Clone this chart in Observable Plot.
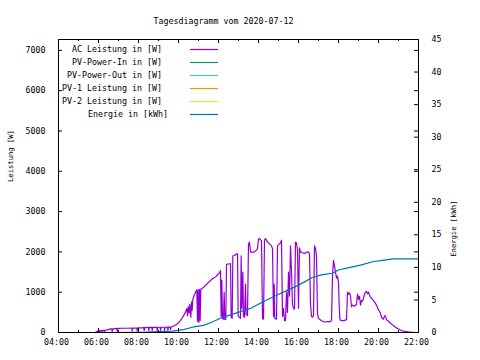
<!DOCTYPE html>
<html><head><meta charset="utf-8">
<script src="https://cdn.jsdelivr.net/npm/d3@7"></script>
<script src="https://cdn.jsdelivr.net/npm/@observablehq/plot@0.6"></script>
<style>html,body{margin:0;padding:0;background:#fff;} svg{display:block}</style>
</head><body><div id="chart"></div>
<script>
// ---------- data ----------
const title = "Tagesdiagramm vom 2020-07-12";
const yLabel = "Leistung [W]";
const y2Label = "Energie [kWh]";

const seriesNames = ["AC Leistung in [W]", "PV-Power-In in [W]", "PV-Power-Out in [W]", "PV-1 Leistung in [W]", "PV-2 Leistung in [W]", "Energie in [kWh]"];
const seriesColors = ["#9400d3", "#009e73", "#56b4e9", "#e69f00", "#f0e442", "#0072b2"];

const acTimes = ["05:51","05:54","05:57","05:58","06:00","06:03","06:04","06:06","06:10","06:11","06:13","06:17","06:18","06:20","06:27","06:33","06:40","06:41","06:43","06:55","06:56","06:58","07:10","07:25","07:40","07:41","07:43","07:55","07:56","07:58","08:10","08:16","08:17","08:19","08:30","08:31","08:33","08:40","08:41","08:43","08:55","08:56","08:58","09:05","09:06","09:08","09:17","09:18","09:20","09:27","09:28","09:30","09:35","09:36","09:38",
"09:42","09:46","09:51","09:56","10:01","10:06","10:11","10:16","10:21","10:25","10:27","10:29","10:32","10:34","10:37","10:39","10:41","10:43","10:46","10:51","10:55","10:57","10:59","11:01","11:03","11:05","11:07","11:11","11:16","11:21","11:26","11:31","11:36","11:41","11:46","11:51","11:56","12:01","12:04","12:06",
"12:08","12:10","12:12","12:15","12:17","12:19","12:22","12:24","12:27","12:33","12:36","12:38","12:41","12:43","12:48","12:54","12:57","12:59","13:02","13:06","13:08","13:10","13:13","13:15","13:18","13:21","13:23","13:27","13:30","13:33","13:36","13:42","13:48","13:54","13:57","14:00","14:03","14:06","14:09","14:12","14:15","14:18","14:21","14:27","14:33","14:39","14:42","14:45","14:47","14:49","14:54","14:57","15:00","15:06","15:09","15:12","15:15","15:18","15:21","15:24","15:27","15:30","15:33","15:36","15:39","15:42","15:45","15:48","15:51","15:54","15:57","16:00","16:03","16:06","16:12","16:18","16:24","16:30","16:33","16:36","16:39","16:42","16:45","16:48","16:51","16:54","16:57","17:00","17:03","17:09","17:18","17:27","17:36","17:39","17:42","17:45","17:48","17:51","17:54","17:57","18:00","18:02","18:04","18:06","18:09","18:12","18:18","18:24","18:27","18:30","18:33","18:36","18:39","18:42","18:48","18:54","18:57","19:00","19:03","19:06","19:09","19:12","19:15","19:18","19:21","19:24","19:27","19:30","19:33","19:36","19:42","19:48","19:54","20:00","20:03","20:06","20:09","20:12","20:15","20:18","20:21","20:24","20:30","20:36","20:42","20:48","20:54","21:00","21:06","21:12","21:18","21:24","21:30","21:36","21:45","22:00"];
const acWatts = [0,25,30,5,45,45,5,50,50,10,55,55,10,60,65,85,90,20,90,100,30,100,105,105,110,40,110,110,40,115,115,120,45,120,125,50,125,125,50,125,125,45,130,130,50,130,130,55,130,135,60,135,135,70,140,
150,165,185,210,250,300,360,430,510,590,420,640,480,700,380,760,550,830,900,1000,1060,280,1060,250,1070,300,1080,1090,1130,1170,1210,1250,1290,1330,1350,1380,1420,1460,1500,1540,
400,1300,350,330,1000,320,330,1680,1700,1700,1710,380,350,1900,1910,1950,1950,420,380,350,1900,600,1500,400,380,1200,450,420,2200,2240,2000,1990,2000,2050,2080,2320,2330,2300,2280,350,330,2300,2330,2250,2200,2150,2080,400,1200,350,330,2150,2180,2220,2290,400,600,300,290,1000,500,1500,900,2150,1500,700,600,580,2240,2220,2050,600,2100,2000,1980,1960,1990,2000,1950,700,400,380,420,2150,2080,1900,450,350,330,290,260,270,270,300,1400,1790,1650,1500,1350,1400,1250,700,350,300,300,290,300,320,1000,950,980,900,640,680,650,700,950,820,900,680,800,780,850,950,1000,1020,960,1000,930,880,820,760,680,560,520,470,380,340,330,420,400,320,280,230,190,150,115,85,60,42,30,20,10,8,0,0];

const pvInTimes = [], pvInWatts = [];
const pvOutTimes = [], pvOutWatts = [];
const pv1Times = [], pv1Watts = [];
const pv2Times = [], pv2Watts = [];

const energyTimes = ["06:56","08:21","09:41","10:15","10:45","11:15","11:36","12:06","12:36","13:06","13:36","14:15","14:51","15:21","15:51","16:21","16:41","17:12","17:42","18:00","18:21","19:06","19:45","20:06","20:45","22:00"];
const energyKWh = [0,0.05,0.2,0.45,0.85,1.1,1.5,2.2,2.7,3.2,3.7,4.75,5.65,6.35,7.05,7.85,8.45,8.9,9.1,9.6,9.85,10.35,10.9,11.05,11.3,11.3];

const xTickHours = [4,6,8,10,12,14,16,18,20,22];
const xTickLabels = ["04:00","06:00","08:00","10:00","12:00","14:00","16:00","18:00","20:00","22:00"];
const xMinorHours = [5,7,9,11,13,15,17,19,21];
const yTicks = [0,1000,2000,3000,4000,5000,6000,7000];
const y2Ticks = [0,5,10,15,20,25,30,35,40,45];

// ---------- build ----------
const toH = s => { const [h, m] = s.split(":").map(Number); return h + m / 60; };
const W = 480, H = 360, mL = 58, mR = 62, mT = 39, mB = 28;
const pw = W - mL - mR, ph = H - mT - mB;
const yMax = 7270, y2Max = 45, k = yMax / y2Max;

const mk = (ts, vs, f = 1) => ts.map((t, i) => ({x: toH(t), y: vs[i] * f}));
const ac = mk(acTimes, acWatts);
const pvIn = mk(pvInTimes, pvInWatts);
const pvOut = mk(pvOutTimes, pvOutWatts);
const pv1 = mk(pv1Times, pv1Watts);
const pv2 = mk(pv2Times, pv2Watts);
const en = mk(energyTimes, energyKWh, k);
const xLab = xTickHours.map((h, i) => ({h, label: xTickLabels[i]}));

const font = "'DejaVu Sans Mono', 'Liberation Mono', monospace";

const chart = Plot.plot({
  width: W, height: H, marginLeft: mL, marginRight: mR, marginTop: mT, marginBottom: mB,
  style: {background: "white", fontFamily: font, fontSize: "8.3px", color: "black", overflow: "visible"},
  x: {domain: [4, 22], axis: null},
  y: {domain: [0, yMax], axis: null},
  marks: [
    Plot.line(ac, {x: "x", y: "y", stroke: seriesColors[0], strokeWidth: 1.2}),
    Plot.line(pvIn, {x: "x", y: "y", stroke: seriesColors[1], strokeWidth: 1.2}),
    Plot.line(pvOut, {x: "x", y: "y", stroke: seriesColors[2], strokeWidth: 1.2}),
    Plot.line(pv1, {x: "x", y: "y", stroke: seriesColors[3], strokeWidth: 1.2}),
    Plot.line(pv2, {x: "x", y: "y", stroke: seriesColors[4], strokeWidth: 1.2}),
    Plot.line(en, {x: "x", y: "y", stroke: seriesColors[5], strokeWidth: 1.2}),
    Plot.frame({stroke: "black"}),
    // x ticks (inward, mirrored)
    Plot.ruleX(xTickHours, {x: d => d, insetTop: ph - 4}),
    Plot.ruleX(xTickHours, {x: d => d, insetBottom: ph - 4}),
    Plot.ruleX(xMinorHours, {x: d => d, insetTop: ph - 2}),
    Plot.ruleX(xMinorHours, {x: d => d, insetBottom: ph - 2}),
    // y ticks left + mirrored right
    Plot.ruleY(yTicks, {y: d => d, insetRight: pw - 4}),
    Plot.ruleY(yTicks, {y: d => d, insetLeft: pw - 4}),
    // y2 ticks right
    Plot.ruleY(y2Ticks, {y: d => d * k, insetLeft: pw - 4}),
    // tick labels
    Plot.text(xLab, {x: "h", text: "label", frameAnchor: "bottom", dy: 12, dx: -2}),
    Plot.text(yTicks, {y: d => d, text: d => String(d), frameAnchor: "left", dx: -13, textAnchor: "end"}),
    Plot.text(y2Ticks, {y: d => d * k, text: d => String(d), frameAnchor: "right", dx: 13, textAnchor: "start"}),
    // titles
    Plot.text([title], {frameAnchor: "top", dy: -21.5, dx: -15}),
    Plot.text([yLabel], {frameAnchor: "left", dx: -48, dy: -4, rotate: -90, fontSize: 7.2}),
    Plot.text([y2Label], {frameAnchor: "right", dx: 35, dy: 14.5, rotate: -90, fontSize: 7.2})
  ]
});

// legend (key box inside plot, top-left)
const svg = d3.select(chart);
const key = svg.append("g").attr("font-family", font).attr("font-size", "8.3px");
seriesNames.forEach((name, i) => {
  const yy = 49 + 13 * i;
  key.append("text").attr("x", i === 5 ? 168 : 162).attr("y", yy).attr("dy", "0.32em")
     .attr("text-anchor", "end").attr("fill", "black").text(name);
  key.append("line").attr("x1", 190).attr("x2", 218).attr("y1", yy + 0.5).attr("y2", yy + 0.5)
     .attr("stroke", seriesColors[i]).attr("stroke-width", 1.2);
});

document.getElementById("chart").appendChild(chart);
</script>
</body></html>
